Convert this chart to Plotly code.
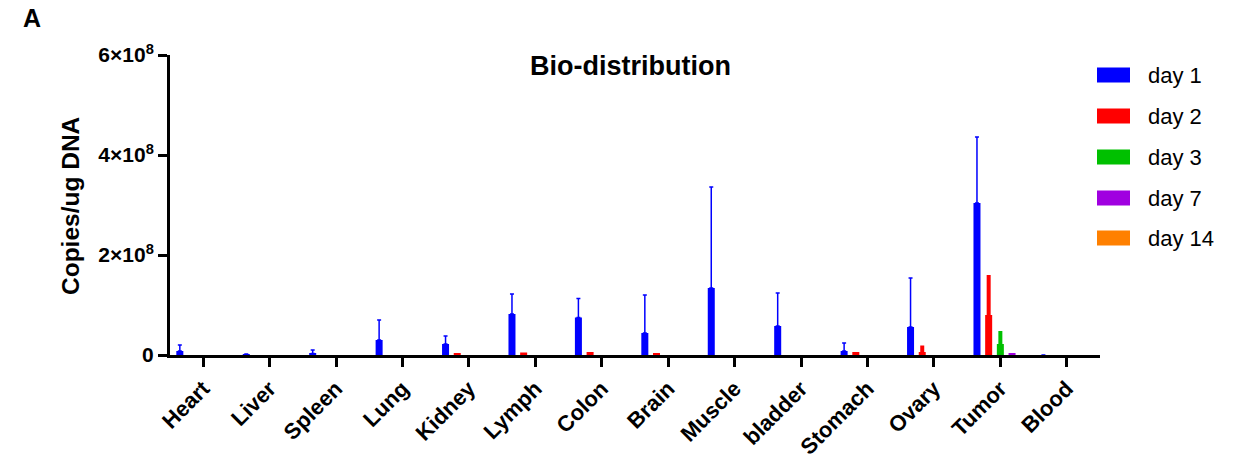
import plotly.graph_objects as go

categories = ["Heart", "Liver", "Spleen", "Lung", "Kidney", "Lymph", "Colon",
              "Brain", "Muscle", "bladder", "Stomach", "Ovary", "Tumor", "Blood"]

day1 = [8e6, 2e6, 3e6, 3.0e7, 2.2e7, 8.2e7, 7.5e7, 4.4e7, 1.34e8, 5.8e7, 8e6, 5.6e7, 3.04e8, 0]
day1_err = [1.2e7, None, 7e6, 4.0e7, 1.6e7, 4.0e7, 3.8e7, 7.6e7, 2.02e8, 6.6e7, 1.6e7, 9.8e7, 1.32e8, None]

day2 = [0, 0, 0, 0, 3e6, 5e6, 6e6, 4e6, 0, 0, 6e6, 6e6, 8.0e7, 0]
day2_err = [None, None, None, None, None, None, None, None, None, None, None, 1.3e7, 8.0e7, None]

day3 = [0, 0, 0, 0, 0, 0, 0, 0, 0, 0, 0, 0, 2.2e7, 0]
day3_err = [None] * 12 + [2.6e7, None]

day7 = [0, 0, 0, 0, 0, 0, 0, 0, 0, 0, 0, 0, 2.5e6, 0]
day14 = [0] * 14

series_names = ["day 1", "day 2", "day 3", "day 7", "day 14"]
series_values = [day1, day2, day3, day7, day14]
series_errors = [day1_err, day2_err, day3_err, None, None]
colors = ["#0000FF", "#FF0000", "#00C000", "#A000E0", "#FF8000"]
err_thickness = [1.5, 4, 4, 1, 1]
err_cap = [2, 0, 0, 0, 0]

y_tickvals = [0, 2e8, 4e8, 6e8]
y_ticktext = ["0", "2×10<sup>8</sup>", "4×10<sup>8</sup>", "6×10<sup>8</sup>"]

FONT = "Liberation Sans, Arial, sans-serif"

# page body has an 8px margin: plot area spans x 170..1100, y 55..355 on screen
OFF = 8
PL, PT, PW, PH = 170, 55, 930, 300

def px_x(x):
    return (x - PL) / PW

def px_y(y):
    return (PT + PH - y) / PH

fig = go.Figure()
for name, vals, errs, col, th, cw in zip(series_names, series_values, series_errors,
                                          colors, err_thickness, err_cap):
    kw = {}
    if errs is not None:
        kw["error_y"] = dict(type="data", array=errs, arrayminus=[0] * len(errs),
                             symmetric=False, visible=True, color=col,
                             thickness=th, width=cw)
    fig.add_trace(go.Bar(x=categories, y=vals, name=name, marker_color=col,
                         marker_line_width=0, showlegend=False, **kw))

# manual legend (wide swatches as in the reference)
leg_y_px = [75, 116, 157, 198, 238]
for name, col, ypx in zip(series_names, colors, leg_y_px):
    yc = px_y(ypx)
    fig.add_shape(type="rect", xref="paper", yref="paper",
                  x0=px_x(1097), x1=px_x(1130),
                  y0=yc - 7.5 / PH, y1=yc + 7.5 / PH,
                  fillcolor=col, line_width=0)
    fig.add_annotation(text=name, xref="paper", yref="paper",
                       x=px_x(1146), y=yc, xanchor="left", yanchor="middle",
                       showarrow=False, font=dict(family=FONT, size=22, color="black"))

fig.add_annotation(text="<b>Bio-distribution</b>", xref="paper", yref="paper",
                   x=px_x(630), y=px_y(66), xanchor="center",
                   yanchor="middle", showarrow=False,
                   font=dict(family=FONT, size=27, color="black"))
fig.add_annotation(text="<b>Copies/ug DNA</b>", xref="paper", yref="paper",
                   x=px_x(70), y=px_y(206), xanchor="center", yanchor="middle",
                   textangle=-90, showarrow=False,
                   font=dict(family=FONT, size=24.5, color="black"))
fig.add_annotation(text="<b>A</b>", xref="paper", yref="paper",
                   x=px_x(32), y=px_y(18), xanchor="center",
                   yanchor="middle", showarrow=False,
                   font=dict(family=FONT, size=25, color="black"))

fig.update_layout(
    width=1248 - OFF, height=456 - OFF,
    margin=dict(l=PL - OFF, r=1248 - PL - PW, t=PT - OFF, b=456 - PT - PH,
                autoexpand=False),
    plot_bgcolor="white", paper_bgcolor="white",
    barmode="group", bargap=0.12, bargroupgap=0.4,
    font=dict(family=FONT, color="black"),
    showlegend=False,
)
fig.update_xaxes(
    showline=True, linecolor="black", linewidth=3, showgrid=False, zeroline=False,
    ticks="outside", ticklen=9, tickwidth=2.5, tickcolor="black",
    tickangle=-45, tickfont=dict(family=FONT, size=22, weight="bold", color="black"),
    automargin=False,
)
fig.update_yaxes(
    range=[0, 6e8], tickvals=y_tickvals, ticktext=y_ticktext,
    showline=True, linecolor="black", linewidth=3, showgrid=False, zeroline=False,
    ticks="outside", ticklen=9, tickwidth=2.5, tickcolor="black",
    tickfont=dict(family=FONT, size=21, weight="bold", color="black"),
    automargin=False,
)

fig.write_html("out.html")
